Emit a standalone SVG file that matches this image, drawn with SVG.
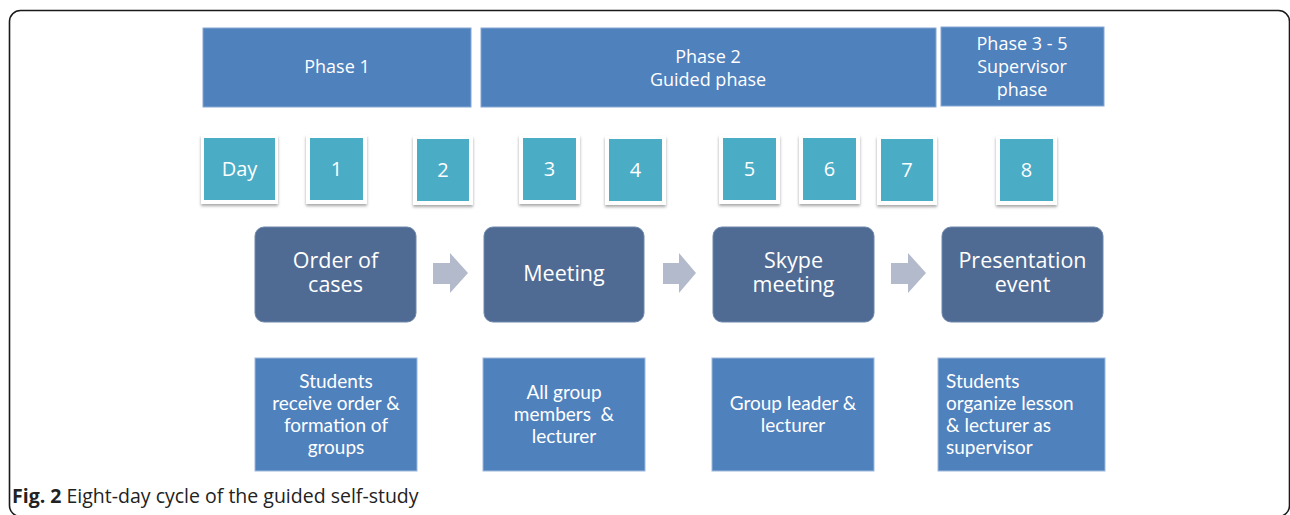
<svg xmlns="http://www.w3.org/2000/svg" width="1290" height="515" viewBox="0 0 1290 515">
<defs>
<filter id="sh" x="-20%" y="-20%" width="140%" height="150%">
<feDropShadow dx="0" dy="2" stdDeviation="1.6" flood-color="#000" flood-opacity="0.35"/>
</filter>
<style>
.frame{fill:#fff;stroke:#1a1a1a;stroke-width:1.6}
.phase{fill:#4F81BD;stroke:#86A8D4;stroke-width:1}
.dayo{fill:#fff;filter:url(#sh)}
.day{fill:#4BACC6}
.proc{fill:#4F6B93;stroke:#6F88AC;stroke-width:1}
.desc{fill:#4F81BD;stroke:#9DB8DC;stroke-width:1}
.arr{fill:#B3BACB}
.t{font-family:"Open Sans","DejaVu Sans",sans-serif;fill:#fff;text-anchor:middle}
.tp{font-size:18px}
.td{font-size:20px}
.tb{font-size:21.5px}
.ts{font-family:Lato,"Open Sans",sans-serif;font-size:19px;fill:#fff;text-anchor:middle}
.sl{text-anchor:start}
.cap{font-family:"Open Sans","DejaVu Sans",sans-serif;font-size:19.5px;fill:#222}
</style>
</defs>
<rect class="frame" x="9.5" y="10.5" width="1280" height="506" rx="11"/>

<g id="phase1"><rect class="phase" x="203" y="28" width="268" height="79"/><text class="t tp" x="337" y="73">Phase 1</text></g>
<g id="phase2"><rect class="phase" x="481" y="28" width="455" height="79"/><text class="t tp" x="708" y="63">Phase 2</text><text class="t tp" x="708" y="86">Guided phase</text></g>
<g id="phase3"><rect class="phase" x="941" y="27" width="163" height="79"/><text class="t tp" x="1022" y="50">Phase 3 - 5</text><text class="t tp" x="1022" y="73">Supervisor</text><text class="t tp" x="1022" y="96">phase</text></g>

<g id="dayLabel"><rect class="dayo" x="201" y="135" width="77" height="69"/><rect class="day" x="204" y="138" width="71" height="62"/><text class="t td" x="239.5" y="176">Day</text></g>
<g id="day1"><rect class="dayo" x="306" y="135" width="61" height="69"/><rect class="day" x="310" y="138" width="53" height="62"/><text class="t td" x="336.5" y="176">1</text></g>
<g id="day2"><rect class="dayo" x="413" y="136" width="60" height="69"/><rect class="day" x="417" y="139" width="52" height="62"/><text class="t td" x="443" y="177">2</text></g>
<g id="day3"><rect class="dayo" x="519" y="135" width="61" height="69"/><rect class="day" x="523" y="138" width="53" height="62"/><text class="t td" x="549.5" y="176">3</text></g>
<g id="day4"><rect class="dayo" x="605" y="136" width="61" height="69"/><rect class="day" x="609" y="139" width="53" height="62"/><text class="t td" x="635.5" y="177">4</text></g>
<g id="day5"><rect class="dayo" x="719" y="135" width="61" height="69"/><rect class="day" x="723" y="138" width="53" height="62"/><text class="t td" x="749.5" y="176">5</text></g>
<g id="day6"><rect class="dayo" x="799" y="135" width="61" height="69"/><rect class="day" x="803" y="138" width="53" height="62"/><text class="t td" x="829.5" y="176">6</text></g>
<g id="day7"><rect class="dayo" x="877" y="136" width="60" height="69"/><rect class="day" x="881" y="139" width="52" height="62"/><text class="t td" x="907" y="177">7</text></g>
<g id="day8"><rect class="dayo" x="996" y="136" width="61" height="69"/><rect class="day" x="1000" y="139" width="53" height="62"/><text class="t td" x="1026.5" y="177">8</text></g>

<g id="order"><rect class="proc" x="255" y="227" width="161" height="95" rx="9"/><text class="t tb" x="335.5" y="268">Order of</text><text class="t tb" x="335.5" y="292">cases</text></g>
<g id="meeting"><rect class="proc" x="484" y="227" width="160" height="95" rx="9"/><text class="t tb" x="564" y="281">Meeting</text></g>
<g id="skype"><rect class="proc" x="713" y="227" width="161" height="95" rx="9"/><text class="t tb" x="793.5" y="268">Skype</text><text class="t tb" x="793.5" y="292">meeting</text></g>
<g id="presentation"><rect class="proc" x="942" y="227" width="161" height="95" rx="9"/><text class="t tb" x="1022.5" y="268">Presentation</text><text class="t tb" x="1022.5" y="292">event</text></g>

<g id="connectors">
<path class="arr" d="M433,263 H450 V253 L468,273 L450,293 V284 H433 Z"/>
<path class="arr" d="M663,263 H679 V253 L696,273 L679,293 V284 H663 Z"/>
<path class="arr" d="M891,263 H908 V253 L926,273 L908,293 V284 H891 Z"/>
</g>

<g id="desc1"><rect class="desc" x="255" y="358" width="162" height="113"/><text class="ts" x="336" y="388">Students</text><text class="ts" x="336" y="410">receive order &amp;</text><text class="ts" x="336" y="432">formation of</text><text class="ts" x="336" y="454">groups</text></g>
<g id="desc2"><rect class="desc" x="483" y="358" width="162" height="113"/><text class="ts" x="564" y="399">All group</text><text class="ts" x="564" y="421" xml:space="preserve">members  &amp;</text><text class="ts" x="564" y="443">lecturer</text></g>
<g id="desc3"><rect class="desc" x="712" y="358" width="162" height="113"/><text class="ts" x="793" y="410">Group leader &amp;</text><text class="ts" x="793" y="432">lecturer</text></g>
<g id="desc4"><rect class="desc" x="938" y="358" width="167" height="113"/><text class="ts sl" x="946" y="388">Students</text><text class="ts sl" x="946" y="410">organize lesson</text><text class="ts sl" x="946" y="432">&amp; lecturer as</text><text class="ts sl" x="946" y="454">supervisor</text></g>

<text class="cap" x="12" y="503"><tspan font-weight="bold">Fig. 2</tspan> Eight-day cycle of the guided self-study</text>
</svg>
